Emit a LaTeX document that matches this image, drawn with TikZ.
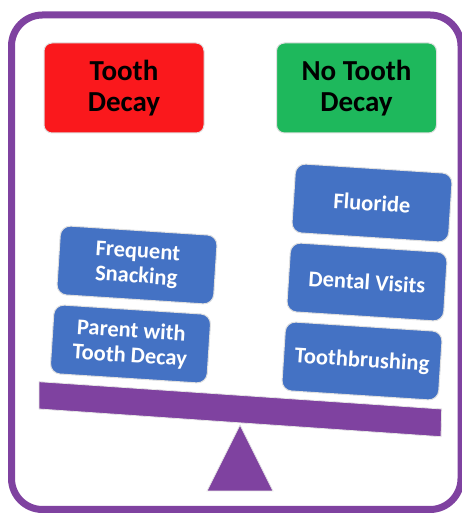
\documentclass[tikz,border=0pt]{standalone}
\usepackage{fontspec}
\setmainfont{Carlito}
\definecolor{frame}{RGB}{127,66,160}
\definecolor{dred}{RGB}{250,24,28}
\definecolor{dgreen}{RGB}{30,184,92}
\definecolor{dblue}{RGB}{68,114,196}
\tikzset{
  headbox/.style={rounded corners=8pt, draw=black!12, line width=1pt, minimum width=160pt, minimum height=90pt, align=center, inner sep=0pt, font=\fontsize{29}{31}\selectfont\bfseries, text=black},
  factorbox/.style={rounded corners=10pt, fill=dblue, draw=black!12, line width=1pt, minimum width=157pt, minimum height=69pt, align=center, inner sep=0pt, font=\fontsize{22.5}{25}\selectfont\bfseries, text=white, rotate=-3.7},
  scalepart/.style={fill=frame, draw=black!10, line width=0.8pt}
}
\begin{document}
\begin{tikzpicture}[x=1pt,y=1pt]
\useasboundingbox (0,0) rectangle (462,513);
\clip (0,0) rectangle (462,513);
\draw[frame, line width=7pt, rounded corners=31pt] (11.5,3.5) rectangle (461,498);
\node[headbox, fill=dred] (td) at (124,425) {Tooth\\Decay};
\node[headbox, fill=dgreen] (ntd) at (356.5,425) {No Tooth\\Decay};
\node[factorbox] (fs) at (137,248) {Frequent\\Snacking};
\node[factorbox] (pt) at (130.5,169) {Parent with\\Tooth Decay};
\node[factorbox] (fl) at (372,310) {Fluoride};
\node[factorbox] (dv) at (367,231) {Dental Visits};
\node[factorbox] (tb) at (362,152) {Toothbrushing};
\path[scalepart] (39,131.3) -- (441.7,104) -- (441,76.3) -- (39,104) -- cycle;
\path[scalepart] (240,88) -- (273,22) -- (207,22) -- cycle;
\end{tikzpicture}
\end{document}
